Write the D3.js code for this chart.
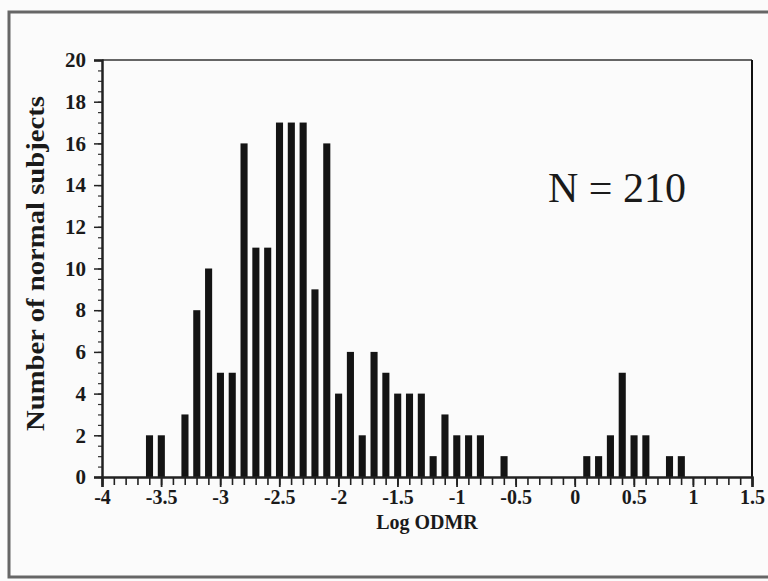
<!DOCTYPE html>
<meta charset="utf-8">
<script src="https://d3js.org/d3.v7.min.js"></script>
<style>
  body { margin: 0; background: #fbfbfb; }
  svg text { font-family: "Liberation Serif", "Times New Roman", serif; fill: #1a1a1a; }
</style>
<svg id="chart" width="768" height="581"></svg>
<script>
// histogram bins (log ODMR, bin width 0.1) and counts
var binCenters = [-3.6, -3.5, -3.3, -3.2, -3.1, -3.0, -2.9, -2.8, -2.7, -2.6, -2.5, -2.4, -2.3, -2.2, -2.1,
                  -2.0, -1.9, -1.8, -1.7, -1.6, -1.5, -1.4, -1.3, -1.2, -1.1, -1.0, -0.9, -0.8, -0.6,
                  0.1, 0.2, 0.3, 0.4, 0.5, 0.6, 0.8, 0.9];
var counts = [2, 2, 3, 8, 10, 5, 5, 16, 11, 11, 17, 17, 17, 9, 16,
              4, 6, 2, 6, 5, 4, 4, 4, 1, 3, 2, 2, 2, 1,
              1, 1, 2, 5, 2, 2, 1, 1];
var xTicks = [-4, -3.5, -3, -2.5, -2, -1.5, -1, -0.5, 0, 0.5, 1, 1.5];
var yTicks = [0, 2, 4, 6, 8, 10, 12, 14, 16, 18, 20];
var sampleLabel = "N = 210";

var svg = d3.select("#chart");

// outer photo frame
svg.append("rect")
    .attr("x", 9).attr("y", 12)
    .attr("width", 775).attr("height", 565)
    .attr("fill", "none")
    .attr("stroke", "#666")
    .attr("stroke-width", 3);

// plot box edges (not "top": that name is taken by window.top)
var plotLeft = 102, plotRight = 752, plotTop = 60, plotBottom = 477;

var x = d3.scaleLinear().domain([-4, 1.5]).range([plotLeft, plotRight]);
var y = d3.scaleLinear().domain([0, 20]).range([plotBottom, plotTop]);

// plot box top and right edges
svg.append("line")
    .attr("x1", plotLeft).attr("x2", plotRight)
    .attr("y1", plotTop).attr("y2", plotTop)
    .attr("stroke", "#333").attr("stroke-width", 1.5);
svg.append("line")
    .attr("x1", plotRight).attr("x2", plotRight)
    .attr("y1", plotTop).attr("y2", plotBottom)
    .attr("stroke", "#111").attr("stroke-width", 2);

// bars, nudged a touch right as in the scan
var binW = x(0.1) - x(0);
svg.append("g")
    .selectAll("rect")
    .data(binCenters)
    .enter().append("rect")
    .attr("x", function(d) { return x(d) - binW * 0.28; })
    .attr("width", binW * 0.6)
    .attr("y", function(d, i) { return y(counts[i]); })
    .attr("height", function(d, i) { return plotBottom - y(counts[i]); })
    .attr("fill", "#141414");

// x axis: minor ticks every 0.1, labelled ticks every 0.5
var minorX = d3.range(-40, 16).map(function(d) { return d / 10; });
svg.append("g")
    .attr("transform", "translate(0," + plotBottom + ")")
    .call(d3.axisBottom(x).tickValues(minorX).tickSize(8).tickFormat(""))
    .call(function(g) { g.select(".domain").remove(); })
    .selectAll("line").attr("stroke", "#222").attr("stroke-width", 1.6);

var xAxis = svg.append("g")
    .attr("transform", "translate(0," + plotBottom + ")")
    .call(d3.axisBottom(x).tickValues(xTicks).tickSize(10).tickPadding(3)
        .tickFormat(function(d) { return String(d); }));
xAxis.select(".domain").attr("stroke", "#222").attr("stroke-width", 2.5);
xAxis.selectAll("line").attr("stroke", "#222").attr("stroke-width", 1.8);
xAxis.selectAll("text")
    .style("font-family", "Liberation Serif")
    .style("font-weight", "bold")
    .style("font-size", "20px")
    .attr("fill", "#1a1a1a");

// y axis: minor ticks every 0.5, labelled every 2
var minorY = d3.range(0, 41).map(function(d) { return d / 2; });
svg.append("g")
    .attr("transform", "translate(" + plotLeft + ",0)")
    .call(d3.axisLeft(y).tickValues(minorY).tickSize(4).tickFormat(""))
    .call(function(g) { g.select(".domain").remove(); })
    .selectAll("line").attr("stroke", "#333").attr("stroke-width", 1.2);

var yAxis = svg.append("g")
    .attr("transform", "translate(" + plotLeft + ",0)")
    .call(d3.axisLeft(y).tickValues(yTicks).tickSize(8).tickPadding(8));
yAxis.select(".domain").attr("stroke", "#222").attr("stroke-width", 2.5);
yAxis.selectAll("line").attr("stroke", "#222").attr("stroke-width", 1.5);
yAxis.selectAll("text")
    .style("font-family", "Liberation Serif")
    .style("font-weight", "bold")
    .style("font-size", "21px")
    .attr("fill", "#1a1a1a");

// axis titles
svg.append("text")
    .attr("x", x(-1.25))
    .attr("y", 529)
    .attr("text-anchor", "middle")
    .style("font-weight", "bold")
    .style("font-size", "20px")
    .text("Log ODMR");

svg.append("text")
    .attr("transform", "translate(44," + ((plotTop + plotBottom) / 2 - 5) + ") rotate(-90)")
    .attr("text-anchor", "middle")
    .attr("textLength", 335)
    .attr("lengthAdjust", "spacingAndGlyphs")
    .style("font-weight", "bold")
    .style("font-size", "25px")
    .text("Number of normal subjects");

// sample size annotation
svg.append("text")
    .attr("x", 548)
    .attr("y", 202)
    .style("font-size", "42px")
    .text(sampleLabel);
</script>
